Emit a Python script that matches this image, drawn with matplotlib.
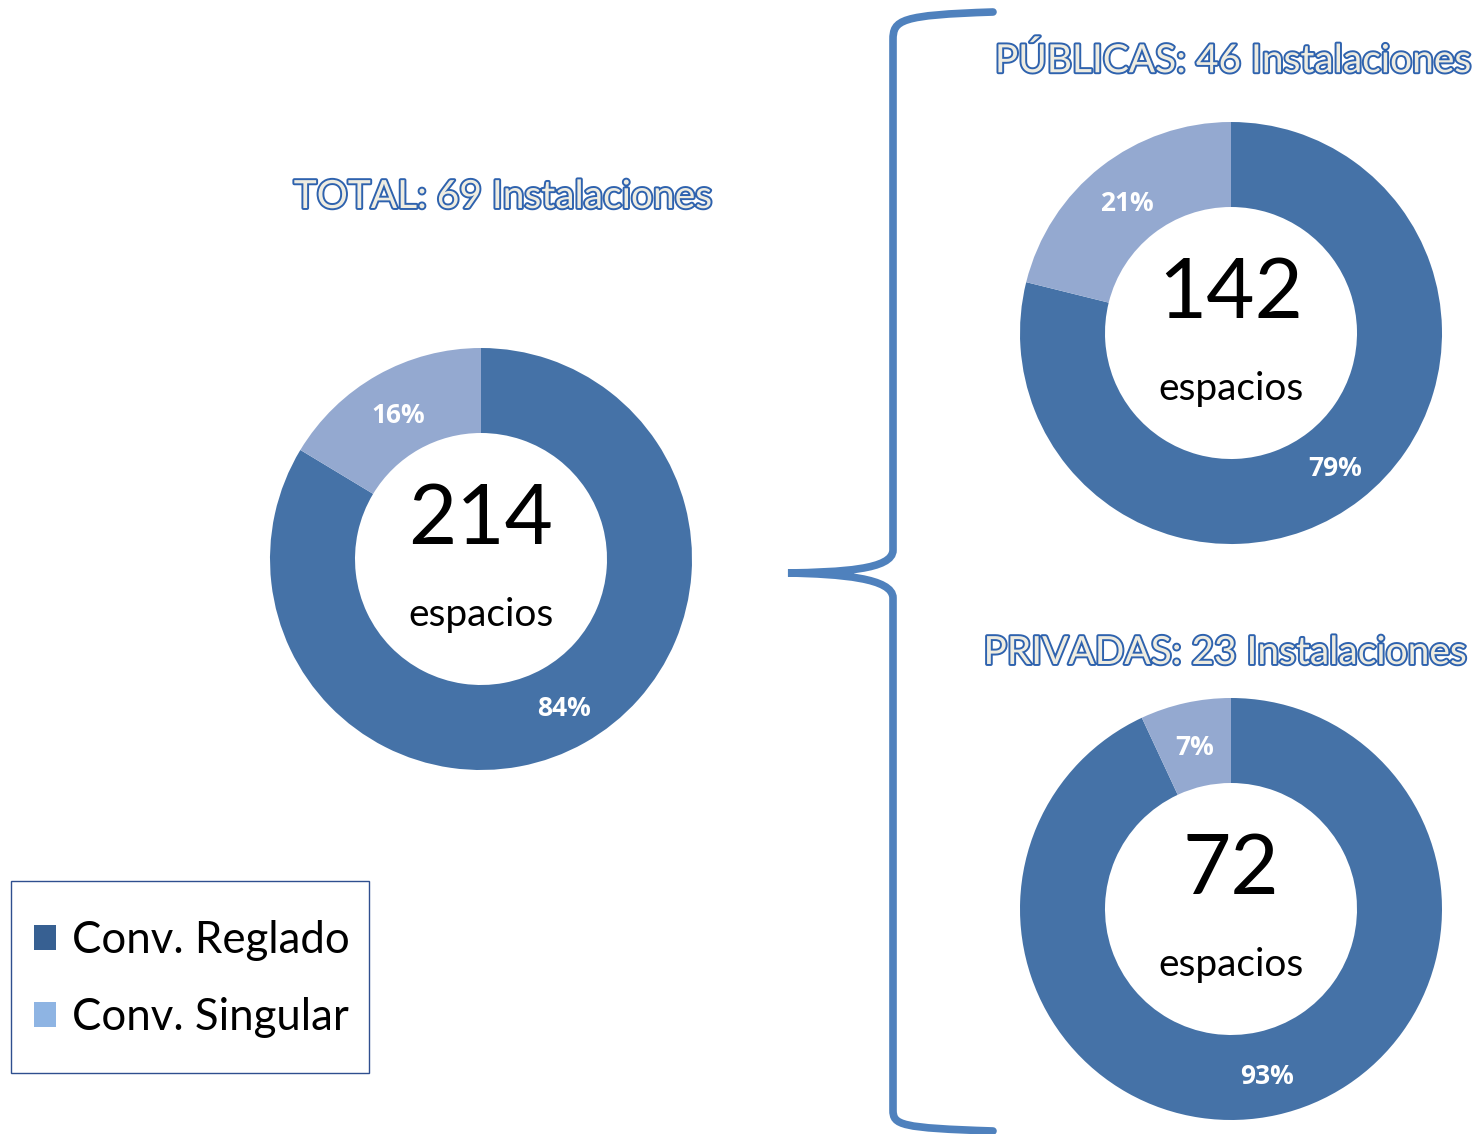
import matplotlib.pyplot as plt
import matplotlib.patheffects as pe
from matplotlib.path import Path
from matplotlib.patches import PathPatch, Patch, Rectangle

plt.rcParams['font.family'] = ['Lato', 'DejaVu Sans']

# data
series = ["Conv. Reglado", "Conv. Singular"]
titles = ["TOTAL: 69 Instalaciones", "PÚBLICAS: 46 Instalaciones", "PRIVADAS: 23 Instalaciones"]
espacios_total = [179, 35]
espacios_publicas = [112, 30]
espacios_privadas = [67, 5]
donuts = [espacios_total, espacios_publicas, espacios_privadas]

pie_colors = ["#4572A7", "#94A9D0"]
legend_colors = ["#376092", "#8EB4E3"]

W, H = 1479, 1134
fig = plt.figure(figsize=(W / 100, H / 100), dpi=100)
ax = fig.add_axes([0, 0, 1, 1])

# donut centres (pixel coords, y from top)
centers = [(481, 559), (1231, 333), (1231, 909)]
title_pos = [(503, 197), (1233, 61), (1225, 653)]
r_out, r_in = 211, 126

for vals, (cx, cy) in zip(donuts, centers):
    wedges, texts, autotexts = ax.pie(
        vals, center=(cx, H - cy), radius=r_out, startangle=90, counterclock=False,
        colors=pie_colors, autopct='%1.0f%%', pctdistance=(r_out + r_in) / 2 / r_out,
        wedgeprops=dict(width=r_out - r_in, edgecolor='none'),
        textprops=dict(color='white', fontsize=19, fontweight='bold', va='center_baseline',
                       family=['Open Sans', 'DejaVu Sans']))
    ax.text(cx, H - cy + 38, str(sum(vals)), ha='center', va='center', fontsize=60, color='black')
    ax.text(cx, H - cy - 56, "espacios", ha='center', va='center', fontsize=28, color='black')

for t, (tx, ty) in zip(titles, title_pos):
    ax.text(tx, H - ty, t, ha='center', va='center', fontsize=28, color='#EEECE1',
            path_effects=[pe.withStroke(linewidth=2.8, foreground='#2E62AE')])

# brace
verts = [(993, 12), (900, 15), (893, 20), (893, 40),
         (893, 550),
         (893, 570), (840, 572), (788, 573),
         (840, 574), (893, 578), (893, 598),
         (893, 1110),
         (893, 1125), (900, 1128), (993, 1131)]
codes = [Path.MOVETO, Path.CURVE4, Path.CURVE4, Path.CURVE4,
         Path.LINETO,
         Path.CURVE4, Path.CURVE4, Path.CURVE4,
         Path.CURVE4, Path.CURVE4, Path.CURVE4,
         Path.LINETO,
         Path.CURVE4, Path.CURVE4, Path.CURVE4]
brace = Path([(x, H - y) for x, y in verts], codes)
ax.add_patch(PathPatch(brace, facecolor='none', edgecolor='#4F81BD', lw=5.5, capstyle='round'))

# legend box + entries
ax.add_patch(Rectangle((11, H - 1073), 358, 192, facecolor='white', edgecolor='#2F4F8F', lw=1.0))
handles = [Patch(facecolor=c, edgecolor='none', label=s) for c, s in zip(legend_colors, series)]
leg = ax.legend(handles=handles, loc='center left', bbox_to_anchor=(34 / W, (H - 979) / H),
                fontsize=31.5, frameon=False, handlelength=0.5, handleheight=0.5,
                handletextpad=0.36, labelspacing=0.84, borderpad=0, borderaxespad=0)

ax.set_xlim(0, W)
ax.set_ylim(0, H)
ax.set_aspect('equal')
ax.axis('off')

fig.savefig('out.png', dpi=100)
